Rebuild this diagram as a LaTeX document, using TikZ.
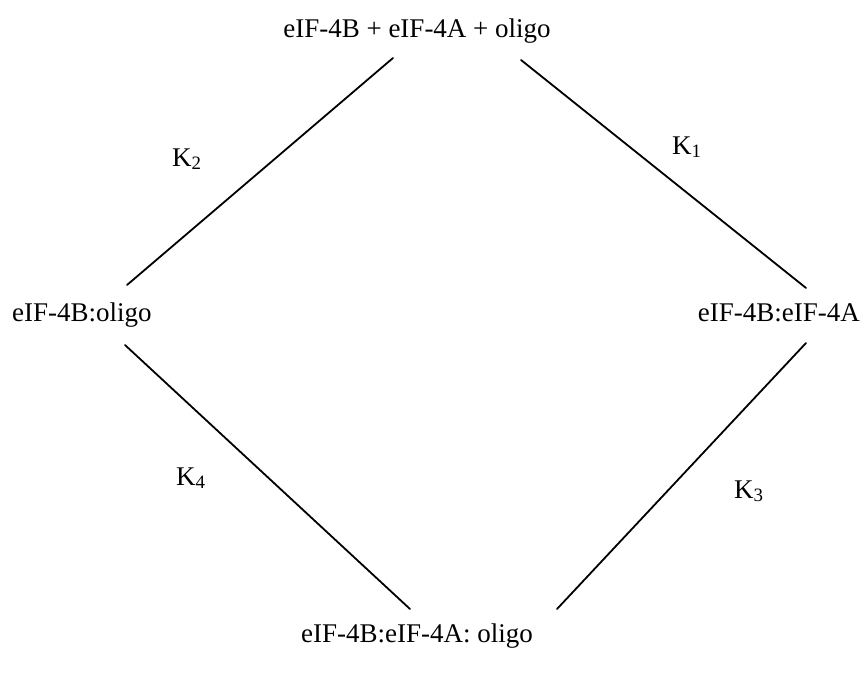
\documentclass[tikz,border=0pt]{standalone}
\usepackage{fontspec}
\setmainfont{Liberation Serif}
\begin{document}
\begin{tikzpicture}[x=1pt,y=-1pt,
  species/.style={inner sep=0pt,font=\fontsize{27}{32}\selectfont},
  klabel/.style={inner sep=0pt,anchor=base west,font=\fontsize{27}{32}\selectfont},
  link/.style={line width=1.8pt,line cap=round}]
\useasboundingbox (0,0) rectangle (866,675);
\node[species,anchor=base] (top) at (417,37) {eIF-4B + eIF-4A + oligo};
\node[species,anchor=base west] (left) at (12,321) {eIF-4B:oligo};
\node[species,anchor=base east] (right) at (860,321) {eIF-4B:eIF-4A};
\node[species,anchor=base] (bottom) at (417,642) {eIF-4B:eIF-4A: oligo};
\node[klabel] (k2) at (172,166) {K\textsubscript{2}};
\node[klabel] (k1) at (672,154) {K\textsubscript{1}};
\node[klabel] (k4) at (176,485) {K\textsubscript{4}};
\node[klabel] (k3) at (734,498) {K\textsubscript{3}};
\coordinate (tl1) at (393,58);
\coordinate (tl2) at (127,285);
\coordinate (tr1) at (521,60);
\coordinate (tr2) at (806,288);
\coordinate (bl1) at (125,345);
\coordinate (bl2) at (410,609);
\coordinate (br1) at (806,343);
\coordinate (br2) at (557,609);
\draw[link] (tl1) -- (tl2);
\draw[link] (tr1) -- (tr2);
\draw[link] (bl1) -- (bl2);
\draw[link] (br1) -- (br2);
\end{tikzpicture}
\end{document}
